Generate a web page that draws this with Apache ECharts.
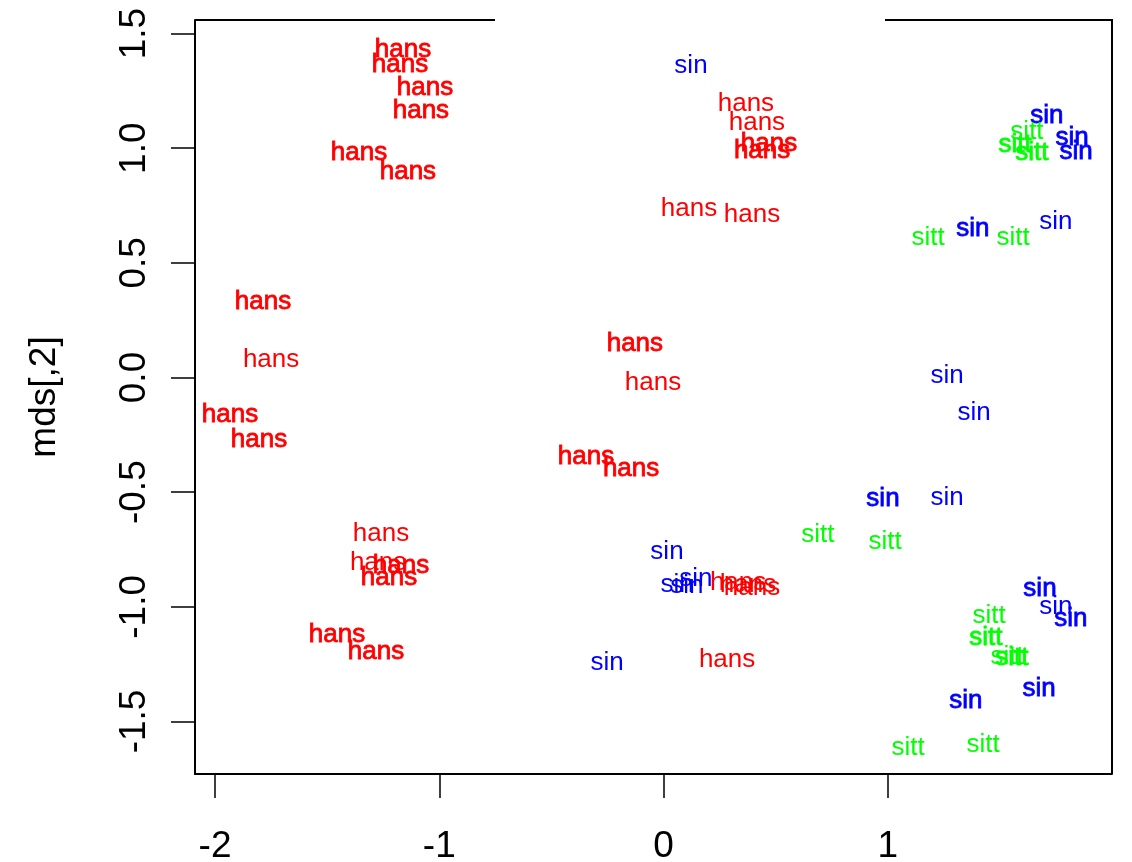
<!DOCTYPE html>
<html>
<head>
<meta charset="utf-8">
<script src="https://cdn.jsdelivr.net/npm/echarts@6/dist/echarts.min.js"></script>
<style>html,body{margin:0;padding:0;background:#fff;}#c{width:1132px;height:862px;}</style>
</head>
<body>
<div id="c"></div>
<script>
// ---- data (mds[,1], mds[,2]); n = number of overplotted copies ----
const hansX = [-1.162,-1.175,-1.064,-1.082,-1.358,-1.140, 0.367, 0.416, 0.470, 0.439, 0.113, 0.394,
               -1.786,-1.750,-1.933,-1.804,-0.128,-0.047,-0.346,-0.145,-1.260,-1.273,-1.171,-1.224,
               -1.456,-1.282, 0.332, 0.376, 0.394, 0.283];
const hansY = [ 1.430, 1.365, 1.265, 1.164, 0.981, 0.898, 1.195, 1.112, 1.020, 0.990, 0.737, 0.711,
                0.331, 0.078,-0.161,-0.270, 0.148,-0.022,-0.345,-0.397,-0.680,-0.807,-0.820,-0.872,
               -1.121,-1.195,-0.894,-0.903,-0.916,-1.230];
const hansN = [2,2,2,2,2,2,1,1,2,2,1,1, 2,1,2,2,2,1,2,2,1,1,2,2, 2,2,1,1,1,1];

const sinX = [0.122, 1.709, 1.821, 1.839, 1.379, 1.749, 1.264, 1.384, 1.264, 0.978,
              0.015, 0.060, 0.104, 0.144,-0.252, 1.678, 1.749, 1.816, 1.674, 1.348];
const sinY = [1.361, 1.143, 1.047, 0.986, 0.650, 0.680, 0.009,-0.153,-0.523,-0.528,
             -0.759,-0.903,-0.907,-0.877,-1.243,-0.920,-0.999,-1.051,-1.356,-1.409];
const sinN = [1,2,2,2,2,1,1,1,1,2, 1,1,1,1,1,2,1,2,2,2];

const sittX = [1.620, 1.567, 1.642, 1.179, 1.558, 0.688, 0.987, 1.451, 1.437, 1.531, 1.553, 1.090, 1.424];
const sittY = [1.073, 1.016, 0.981, 0.611, 0.611,-0.685,-0.715,-1.038,-1.134,-1.217,-1.221,-1.614,-1.601];
const sittN = [1,2,2,1,1,1,1,1,2,1,2,1,1];

const xTicks = [-2, -1, 0, 1];
const yTicks = [-1.5, -1.0, -0.5, 0.0, 0.5, 1.0, 1.5];
const xRange = [-2.0892, 1.9991];
const yRange = [-1.729, 1.559];

// ---- build chart ----
const FONT = '"Liberation Sans", Arial, sans-serif';
function mk(name, xs, ys, ns, color) {
  return {
    type: 'scatter', name: name, silent: true,
    symbol: 'circle', symbolSize: 1,
    itemStyle: { color: 'rgba(0,0,0,0)', opacity: 1 },
    label: { show: true, position: 'inside', formatter: name, color: color, opacity: 1,
             fontSize: 26, fontFamily: FONT },
    emphasis: { disabled: true },
    data: xs.map((x, i) => ({
      value: [x, ys[i]],
      label: ns[i] > 1 ? { textBorderColor: color, textBorderWidth: 0.8 } : {}
    }))
  };
}
const GL = 195, GT = 20, GR = 1112, GB = 774;
const chart = echarts.init(document.getElementById('c'), null, { renderer: 'canvas' });
chart.setOption({
  animation: false,
  backgroundColor: '#fff',
  grid: { left: GL, top: GT, width: GR - GL, height: GB - GT, containLabel: false, outerBoundsMode: 'none' },
  xAxis: {
    type: 'value', min: xRange[0], max: xRange[1],
    splitLine: { show: false },
    axisLine: { show: true, onZero: false, lineStyle: { color: '#000', width: 2 } },
    axisTick: { show: true, length: 24, customValues: xTicks, lineStyle: { color: '#000', width: 1.5 } },
    axisLabel: { customValues: xTicks, margin: 54, fontSize: 37, fontFamily: FONT, color: '#000',
                 formatter: v => String(v) }
  },
  yAxis: {
    type: 'value', min: yRange[0], max: yRange[1],
    name: 'mds[,2]', nameLocation: 'middle', nameRotate: 90, nameGap: 132,
    nameTextStyle: { fontSize: 37, fontFamily: FONT, color: '#000' },
    splitLine: { show: false },
    axisLine: { show: true, onZero: false, lineStyle: { color: '#000', width: 2 } },
    axisTick: { show: true, length: 24, customValues: yTicks, lineStyle: { color: '#000', width: 1.5 } },
    axisLabel: { customValues: yTicks, rotate: 90, margin: 42, fontSize: 37, fontFamily: FONT, color: '#000',
                 formatter: v => v.toFixed(1) }
  },
  graphic: [
    { type: 'polyline', silent: true, shape: { points: [[GL, GT], [495, GT]] }, style: { stroke: '#000', lineWidth: 2 } },
    { type: 'polyline', silent: true, shape: { points: [[885, GT], [GR, GT], [GR, GB]] }, style: { stroke: '#000', lineWidth: 2, fill: null } }
  ],
  series: [
    mk('hans', hansX, hansY, hansN, '#ff0000'),
    mk('sin', sinX, sinY, sinN, '#0000ff'),
    mk('sitt', sittX, sittY, sittN, '#00ff00')
  ]
});
</script>
</body>
</html>
